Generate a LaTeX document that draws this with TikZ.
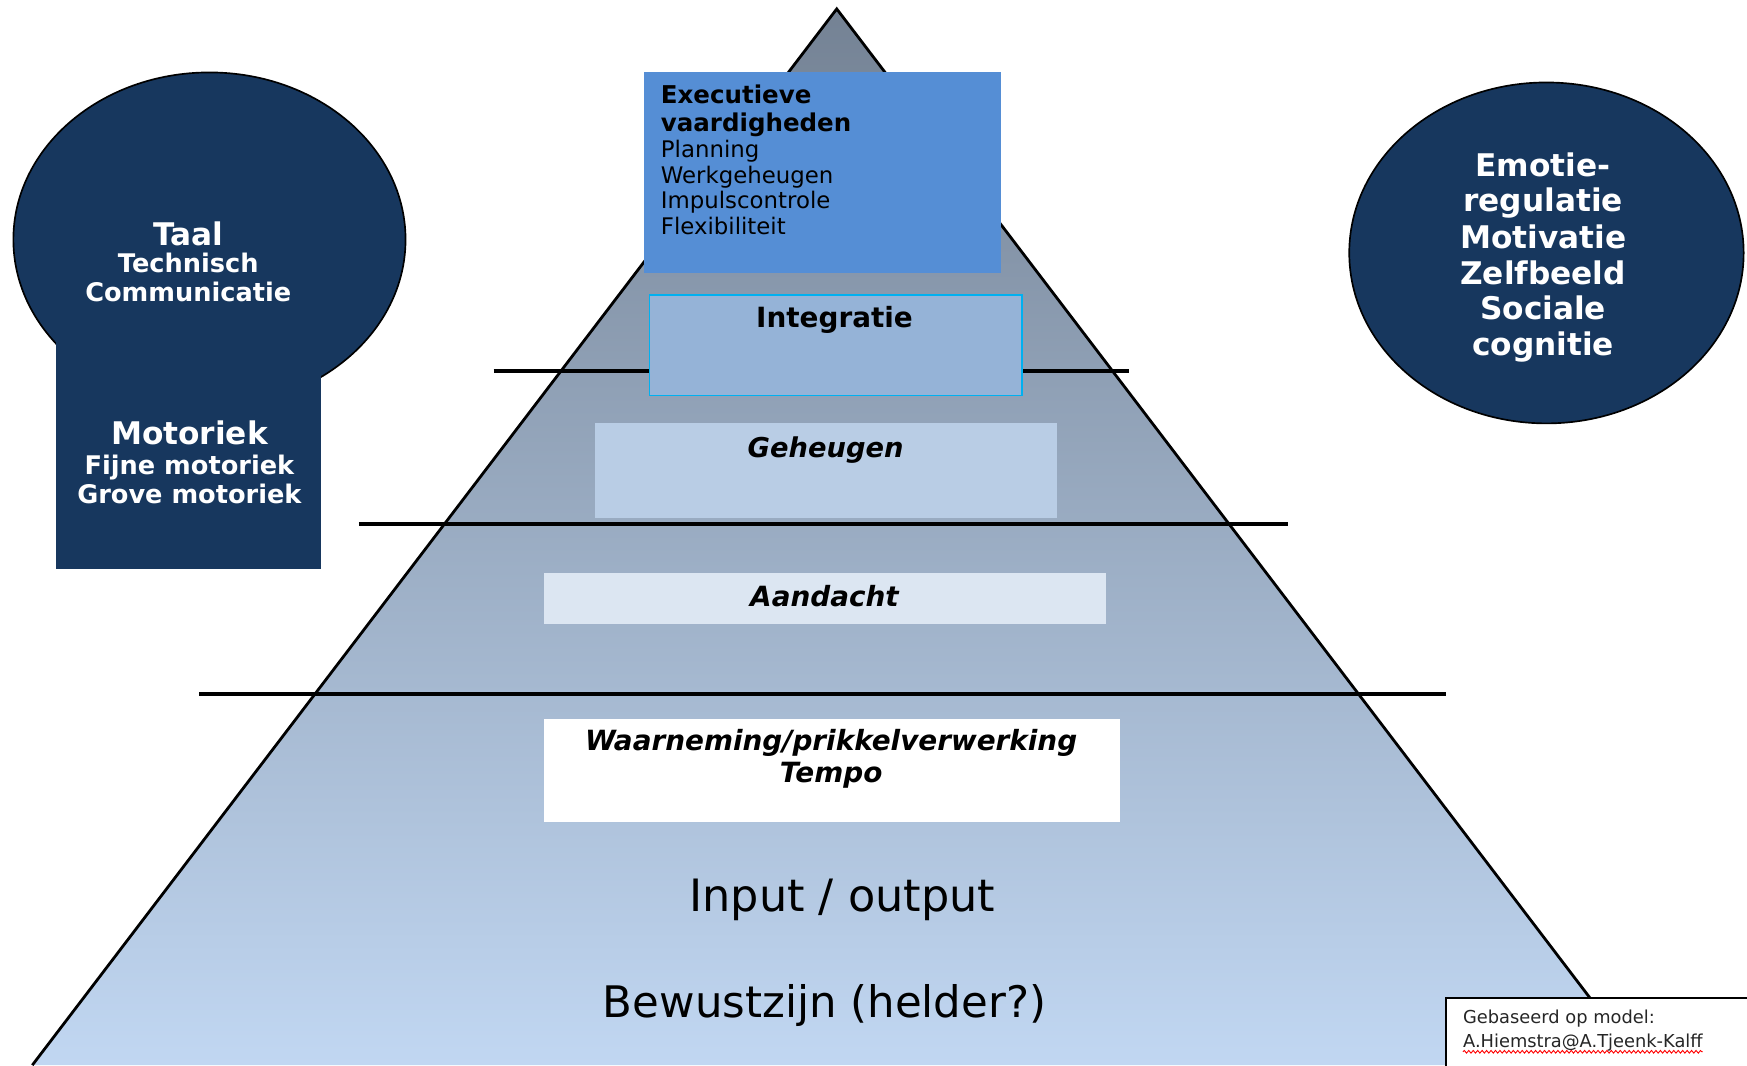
\documentclass[tikz,border=0pt]{standalone}
\usepackage{fontspec}
\setmainfont{DejaVu Sans}
\usetikzlibrary{shapes.geometric,decorations.pathmorphing}
\definecolor{navy}{RGB}{23,55,94}
\definecolor{execblue}{RGB}{85,142,213}
\definecolor{integ}{RGB}{149,179,215}
\definecolor{geh}{RGB}{185,205,229}
\definecolor{aand}{RGB}{220,230,242}
\definecolor{cyanb}{RGB}{0,176,240}
\definecolor{pyrtop}{RGB}{116,130,148}
\definecolor{pyrmid}{RGB}{160,177,201}
\definecolor{pyrbot}{RGB}{193,215,242}
\tikzset{
  boxnode/.style={inner sep=0, outer sep=0, anchor=north west},
  lbl/.style={inner sep=0, anchor=base},
  lbll/.style={inner sep=0, anchor=base west},
  wbold/.style={lbl, text=white, font=\bfseries\fontsize{#1}{#1}\selectfont},
  cbold/.style={lbl, font=\bfseries\itshape\fontsize{#1}{#1}\selectfont},
  divider/.style={line width=3.8pt, black},
}
\begin{document}
\begin{tikzpicture}[x=1pt,y=-1pt]
\useasboundingbox (0,0) rectangle (1568,956);
% pyramid
\shade[top color=pyrtop, middle color=pyrmid, bottom color=pyrbot]
  (751,8) -- (29,956) -- (1473,956) -- cycle;
\draw[line width=2.5pt, line join=miter] (29,956) -- (751,8) -- (1473,956);
% dividers
\draw[divider] (443,333) -- (1013,333);
\draw[divider] (322,470) -- (1156,470);
\draw[divider] (179,623) -- (1298,623);
% boxes
\node[boxnode, fill=execblue, minimum width=320, minimum height=180] (exec) at (578,65) {};
\node[boxnode, fill=integ, draw=cyanb, line width=1.5pt, minimum width=334, minimum height=90] (integ) at (583,265) {};
\node[boxnode, fill=geh, minimum width=415, minimum height=85] (geh) at (534,380) {};
\node[boxnode, fill=aand, minimum width=505, minimum height=46] (aand) at (488,514) {};
\node[boxnode, fill=white, minimum width=517, minimum height=93] (waar) at (488,645) {};
% executive text
\node[lbll, font=\bfseries\fontsize{22}{22}\selectfont] (e1) at (593,93) {Executieve};
\node[lbll, font=\bfseries\fontsize{22}{22}\selectfont] (e2) at (593,118) {vaardigheden};
\node[lbll, font=\fontsize{20.5}{20.5}\selectfont] (e3) at (593,141.5) {Planning};
\node[lbll, font=\fontsize{20.5}{20.5}\selectfont] (e4) at (593,164.5) {Werkgeheugen};
\node[lbll, font=\fontsize{20.5}{20.5}\selectfont] (e5) at (593,187.5) {Impulscontrole};
\node[lbll, font=\fontsize{20.5}{20.5}\selectfont] (e6) at (593,210.5) {Flexibiliteit};
% level labels
\node[lbl, font=\bfseries\fontsize{25}{25}\selectfont] (tint) at (749,294) {Integratie};
\node[cbold=24.5] (tgeh) at (741,411) {Geheugen};
\node[cbold=25] (taand) at (740,544) {Aandacht};
\node[cbold=25] (twaar) at (746,674) {Waarneming/prikkelverwerking};
\node[cbold=25] (ttempo) at (746,702) {Tempo};
\node[lbl, font=\fontsize{40}{40}\selectfont] (tio) at (756,818) {Input / output};
\node[lbl, font=\fontsize{39}{39}\selectfont] (tbew) at (740,913) {Bewustzijn (helder?)};
% left shape
\node[ellipse, draw, line width=1.5pt, fill=navy, minimum width=352, minimum height=300, inner sep=0] (taalc) at (188,215) {};
\node[boxnode, fill=navy, minimum width=238, minimum height=211] (motr) at (50,300) {};
\node[wbold=28] (l1) at (169,220) {Taal};
\node[wbold=23] (l2) at (169,245) {Technisch};
\node[wbold=23] (l3) at (169,271) {Communicatie};
\node[wbold=28] (m1) at (170,399) {Motoriek};
\node[wbold=23] (m2) at (170,426) {Fijne motoriek};
\node[wbold=23] (m3) at (170,452) {Grove motoriek};
% right circle
\node[ellipse, draw, line width=1.5pt, fill=navy, minimum width=354, minimum height=306, inner sep=0] (emoc) at (1388,227) {};
\node[wbold=28] (r1) at (1385,158) {Emotie-};
\node[wbold=28] (r2) at (1385,190) {regulatie};
\node[wbold=28] (r3) at (1385,223) {Motivatie};
\node[wbold=28] (r4) at (1385,255) {Zelfbeeld};
\node[wbold=28] (r5) at (1385,287) {Sociale};
\node[wbold=28] (r6) at (1385,319) {cognitie};
% footnote
\node[boxnode, fill=white, draw=black, line width=1.5pt, minimum width=290, minimum height=80] (foot) at (1298,896) {};
\node[lbll, font=\fontsize{16}{16}\selectfont, text=black!85] (f1) at (1313,919) {Gebaseerd op model:};
\node[lbll, font=\fontsize{16}{16}\selectfont, text=black!85] (f2) at (1313,940) {A.Hiemstra@A.Tjeenk-Kalff};
\draw[red, line width=0.8pt, decorate, decoration={snake, segment length=4pt, amplitude=1.2pt}]
  ([yshift=-4pt]f2.base west) -- ([yshift=-4pt]f2.base east);
\end{tikzpicture}
\end{document}
